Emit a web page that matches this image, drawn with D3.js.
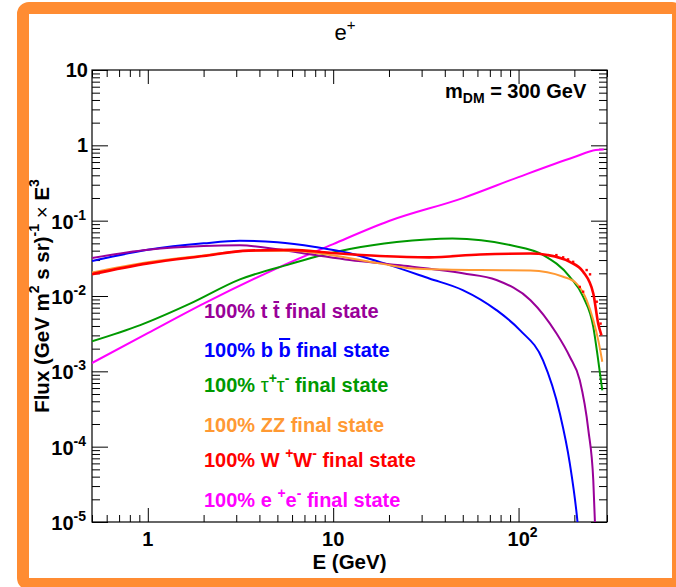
<!DOCTYPE html>
<html>
<head>
<meta charset="utf-8">
<script src="https://cdn.jsdelivr.net/npm/d3@7"></script>
<style>
  html, body { margin: 0; padding: 0; background: #fff; }
  svg { display: block; }
  text { font-family: "Liberation Sans", Arial, Helvetica, sans-serif; }
</style>
</head>
<body>
<svg id="chart" width="676" height="587"></svg>
<script>
// ---------------- data ----------------
const xTickLabels = [[1, "1", null], [10, "10", null], [100, "10", "2"]];
const yTickLabels = [[10, "10", null], [1, "1", null], [0.1, "10", "-1"], [0.01, "10", "-2"], [0.001, "10", "-3"], [0.0001, "10", "-4"], [0.00001, "10", "-5"]];

const ttE = [0.5, 1, 2, 3.14, 5, 8, 12.3, 22.3, 50, 76, 116, 160, 189, 214, 238, 253, 262];
const ttV = [0.032, 0.041, 0.046, 0.047, 0.0416, 0.035, 0.030, 0.0257, 0.020, 0.0163, 0.0088, 0.0032, 0.00156, 0.00076, 0.000166, 0.000036, 0.000004];

const bbE = [0.5, 1, 2, 3.14, 5, 8, 12.3, 17.8, 33, 50, 76, 102, 135.5, 167, 189, 208, 215];
const bbV = [0.0291, 0.041, 0.050, 0.054, 0.0517, 0.0448, 0.037, 0.0284, 0.0171, 0.012, 0.0065, 0.0035, 0.0014, 0.000276, 0.00006, 0.00001, 0.000004];

const tauE = [0.5, 0.91, 1.69, 3.14, 5.85, 8.8, 12.3, 22, 44, 90, 136, 189, 223, 253, 269, 283];
const tauV = [0.0025, 0.0041, 0.0079, 0.0166, 0.0265, 0.035, 0.042, 0.052, 0.058, 0.0474, 0.035, 0.018, 0.0098, 0.0039, 0.0014, 0.00056];

const zzE = [0.5, 1, 2, 3.5, 6, 9.6, 17.8, 27, 62, 116, 174, 205, 233, 253, 270, 283];
const zzV = [0.0205, 0.028, 0.0345, 0.040, 0.040, 0.035, 0.0271, 0.0232, 0.0221, 0.0218, 0.018, 0.0147, 0.0088, 0.0048, 0.0025, 0.00134];

const wwE = [0.5, 1, 2, 3.5, 6, 9.6, 17.8, 33, 62, 116, 143, 189, 223, 253, 269, 280];
const wwV = [0.0195, 0.0271, 0.0339, 0.040, 0.041, 0.0375, 0.034, 0.0326, 0.0356, 0.0366, 0.035, 0.0284, 0.021, 0.0108, 0.0043, 0.003];

const wwPtsE = [160, 174, 185, 197, 214, 223, 233, 243, 264, 277];
const wwPtsV = [0.0349, 0.0326, 0.0306, 0.0284, 0.0132, 0.0114, 0.0221, 0.0194, 0.0084, 0.0043];

const eeE = [0.5, 1, 2, 5, 10, 20, 50, 100, 200, 261, 288];
const eeV = [0.00129, 0.00321, 0.00792, 0.0235, 0.0489, 0.0989, 0.1995, 0.379, 0.70, 0.867, 0.88];

const seriesColors = {tt: "#990099", bb: "#0000ff", tau: "#009900", zz: "#ff9933", ww: "#ff0000", ee: "#ff00ff"};

// ---------------- drawing ----------------
const svg = d3.select("#chart");
const L = 92, R = 607, T = 70, B = 522;
const x = d3.scaleLog().domain([0.5, 300]).range([L, R]);
const y = d3.scaleLog().domain([1e-5, 10]).range([B, T]);

svg.append("rect").attr("x", 23).attr("y", 8).attr("width", 655).attr("height", 576)
  .attr("rx", 6).attr("fill", "none").attr("stroke", "#ff8c32").attr("stroke-width", 12);

svg.append("clipPath").attr("id", "clip").append("rect")
  .attr("x", L).attr("y", T).attr("width", R - L).attr("height", B - T);

function logTicks(lo, hi) {
  const major = [], minor = [];
  for (let d = -6; d <= 3; d++) {
    for (let k = 1; k <= 9; k++) {
      const v = k * Math.pow(10, d);
      if (v >= lo * 0.9999 && v <= hi * 1.0001) (k === 1 ? major : minor).push(v);
    }
  }
  return {major, minor};
}
const xt = logTicks(0.5, 300), yt = logTicks(1e-5, 10);
const tickStyle = g => { g.select(".domain").remove(); g.selectAll("line").attr("stroke", "#000").attr("stroke-width", 1); g.selectAll("text").remove(); };

svg.append("g").attr("transform", `translate(0,${B})`).call(d3.axisBottom(x).tickValues(xt.minor).tickSize(-7).tickFormat("")).call(tickStyle);
svg.append("g").attr("transform", `translate(0,${B})`).call(d3.axisBottom(x).tickValues(xt.major).tickSize(-14).tickFormat("")).call(tickStyle);
svg.append("g").attr("transform", `translate(0,${T})`).call(d3.axisTop(x).tickValues(xt.minor).tickSize(-7).tickFormat("")).call(tickStyle);
svg.append("g").attr("transform", `translate(0,${T})`).call(d3.axisTop(x).tickValues(xt.major).tickSize(-14).tickFormat("")).call(tickStyle);
svg.append("g").attr("transform", `translate(${L},0)`).call(d3.axisLeft(y).tickValues(yt.minor).tickSize(-8).tickFormat("")).call(tickStyle);
svg.append("g").attr("transform", `translate(${L},0)`).call(d3.axisLeft(y).tickValues(yt.major).tickSize(-16).tickFormat("")).call(tickStyle);
svg.append("g").attr("transform", `translate(${R},0)`).call(d3.axisRight(y).tickValues(yt.minor).tickSize(-8).tickFormat("")).call(tickStyle);
svg.append("g").attr("transform", `translate(${R},0)`).call(d3.axisRight(y).tickValues(yt.major).tickSize(-16).tickFormat("")).call(tickStyle);

svg.append("rect").attr("x", L).attr("y", T).attr("width", R - L).attr("height", B - T)
  .attr("fill", "none").attr("stroke", "#000").attr("stroke-width", 1.2);

function rich(xp, yp, parts, opts) {
  const t = svg.append("text").attr("x", xp).attr("y", yp)
    .attr("font-size", opts.size).attr("font-weight", opts.weight || "normal")
    .attr("fill", opts.fill || "#000").attr("text-anchor", opts.anchor || "start");
  if (opts.transform) t.attr("transform", opts.transform);
  let cur = 0;
  const supShift = opts.supShift || Math.round(opts.size * 0.45);
  const subShift = opts.subShift || Math.round(opts.size * 0.3);
  const overs = [];
  let charIdx = 0;
  parts.forEach(p => {
    const [txt, kind, extra] = p;
    let target = 0;
    let fs = opts.size;
    if (kind === "sup") { target = -supShift; fs = Math.round(opts.size * 0.7); }
    if (kind === "sub") { target = subShift; fs = Math.round(opts.size * 0.7); }
    const ts = t.append("tspan").text(txt).attr("font-size", fs).attr("dy", target - cur);
    cur = target;
    if (kind === "over") overs.push({idx: charIdx, n: txt.length, lift: p[2] || 16});
    if (extra && kind !== "over") Object.entries(extra).forEach(([k, v]) => ts.attr(k, v));
    charIdx += txt.length;
  });
  overs.forEach(o => {
    const a = t.node().getExtentOfChar(o.idx);
    const b = t.node().getExtentOfChar(o.idx + o.n - 1);
    svg.append("line").attr("x1", a.x + 0.5).attr("x2", b.x + b.width - 0.5)
      .attr("y1", yp - o.lift).attr("y2", yp - o.lift)
      .attr("stroke", opts.fill || "#000").attr("stroke-width", 2);
  });
  return t;
}

yTickLabels.forEach(([v, base, exp]) => {
  const parts = [[base, "n"]];
  if (exp) parts.push([exp, "sup"]);
  rich(exp ? 86 : 88, y(v) + (exp ? 8 : 6.5), parts, {size: 20, weight: "bold", anchor: "end", supShift: 9});
});
xTickLabels.forEach(([v, base, exp]) => {
  const parts = [[base, "n"]];
  if (exp) parts.push([exp, "sup"]);
  rich(x(v) + (exp ? 4 : 0), 546, parts, {size: 20, weight: "bold", anchor: "middle", supShift: 9});
});

rich((L + R) / 2, 569, [["E (GeV)", "n"]], {size: 20.5, weight: "bold", anchor: "middle"});
rich(0, 0, [["Flux (GeV m", "n"], ["2", "sup"], [" s sr)", "n"], ["-1", "sup"], [" ", "n"], ["\u00d7", "n", {"font-weight": "normal"}], [" E", "n"], ["3", "sup"]],
  {size: 20.5, weight: "bold", anchor: "middle", transform: `translate(49,${(T + B) / 2}) rotate(-90)`, supShift: 10});

rich(345, 40, [["e", "n"], ["+", "sup"]], {size: 22, anchor: "middle", supShift: 10});

rich(445, 98, [["m", "n"], ["DM", "sub"], [" = 300 GeV", "n"]], {size: 20, weight: "bold", subShift: 5});

const line = d3.line().x(d => x(d[0])).y(d => y(d[1])).curve(d3.curveMonotoneX);
const plot = svg.append("g").attr("clip-path", "url(#clip)");
const seriesData = {
  tt: d3.zip(ttE, ttV), bb: d3.zip(bbE, bbV), tau: d3.zip(tauE, tauV),
  zz: d3.zip(zzE, zzV), ww: d3.zip(wwE, wwV), ee: d3.zip(eeE, eeV)
};
["ee", "tau", "bb", "tt", "zz", "ww"].forEach(k => {
  plot.append("path").datum(seriesData[k]).attr("d", line)
    .attr("fill", "none").attr("stroke", seriesColors[k])
    .attr("stroke-width", k === "ww" ? 2.6 : 2).attr("stroke-linejoin", "round");
});
plot.selectAll("rect.wwpt").data(d3.zip(wwPtsE, wwPtsV)).enter().append("rect")
  .attr("class", "wwpt").attr("x", d => x(d[0]) - 1.2).attr("y", d => y(d[1]) - 1.2)
  .attr("width", 2.4).attr("height", 2.4).attr("fill", "#ff0000");

const LX = 204;
rich(LX, 318, [["100% t ", "n"], ["t", "over", 16], [" final state", "n"]], {size: 20, weight: "bold", fill: seriesColors.tt});
rich(LX, 357, [["100% b ", "n"], ["b", "over", 18], [" final state", "n"]], {size: 20, weight: "bold", fill: seriesColors.bb});
rich(LX, 392, [["100% ", "n"], ["\u03c4", "n", {"font-weight": "normal"}], ["+", "sup"], ["\u03c4", "n", {"font-weight": "normal"}], ["-", "sup"], [" final state", "n"]], {size: 20, weight: "bold", fill: seriesColors.tau});
rich(LX, 432, [["100% ZZ final state", "n"]], {size: 20, weight: "bold", fill: seriesColors.zz});
rich(LX, 467, [["100% W ", "n"], ["+", "sup"], ["W", "n"], ["-", "sup"], [" final state", "n"]], {size: 20, weight: "bold", fill: seriesColors.ww});
rich(LX, 507, [["100% e ", "n"], ["+", "sup"], ["e", "n"], ["-", "sup"], [" final state", "n"]], {size: 20, weight: "bold", fill: seriesColors.ee});
</script>
</body>
</html>
